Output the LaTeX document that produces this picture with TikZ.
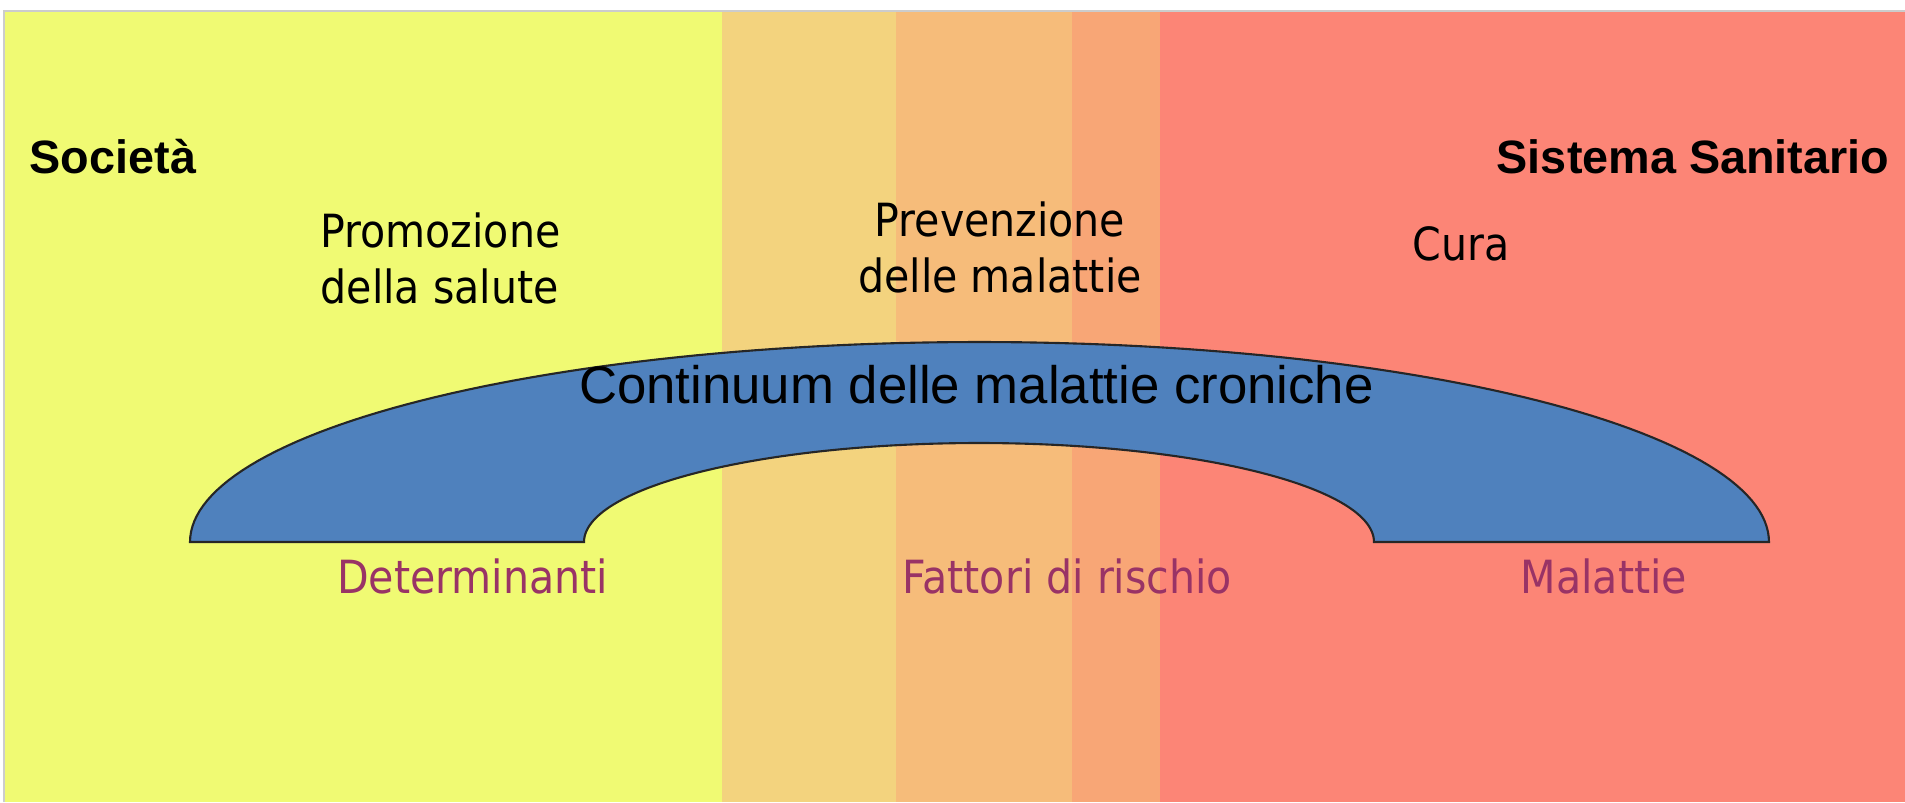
\documentclass[tikz,border=0pt]{standalone}
\usepackage{fontspec}
\setmainfont{DejaVu Sans Condensed}
\newfontfamily\arialfont{Liberation Sans}
\definecolor{socyellow}{HTML}{F0FA73}
\definecolor{bandtwo}{HTML}{F3D37E}
\definecolor{bandthree}{HTML}{F6BC7A}
\definecolor{bandfour}{HTML}{F8A676}
\definecolor{sysred}{HTML}{FC8576}
\definecolor{archblue}{HTML}{4F81BD}
\definecolor{labpurple}{HTML}{993366}

\begin{document}
\begin{tikzpicture}[x=0.01cm,y=-0.01cm,
  head/.style={font=\arialfont\bfseries\fontsize{13.3}{16}\selectfont,inner sep=0pt},
  txt/.style={font=\fontsize{13}{15.9}\selectfont,inner sep=0pt},
  lab/.style={txt,text=labpurple},
  title/.style={font=\arialfont\fontsize{15}{18}\selectfont,inner sep=0pt},
  arch/.style={fill=archblue,draw=black!85,line width=0.6pt}]
\useasboundingbox (0,0) rectangle (1905,802);
% Bands:
\fill[white] (0,0) rectangle (1905,802);
\fill[socyellow] (4,11) rectangle (722,802);
\fill[bandtwo] (722,11) rectangle (896,802);
\fill[bandthree] (896,11) rectangle (1072,802);
\fill[bandfour] (1072,11) rectangle (1160,802);
\fill[sysred] (1160,11) rectangle (1905,802);
\draw[black!20,line width=0.4pt] (4,802) -- (4,11) -- (1905,11);
% Arch:
\draw[arch] plot[domain=180:0,samples=121] ({979.5+789.5*cos(\x)},{542-200*sin(\x)})
  -- plot[domain=0:180,samples=121] ({979+395*cos(\x)},{542-99*sin(\x)}) -- cycle;
% Labels:
\node (soc) [head,anchor=base west] at (29,173) {Società};
\node (sis) [head,anchor=base east] at (1890,173) {Sistema Sanitario};
\node (prom) [txt,align=left,anchor=base west] at (320,303) {Promozione\\della salute};
\node (prev) [txt,align=center,anchor=base] at (1000,292) {Prevenzione\\delle malattie};
\node (cura) [txt,anchor=base west] at (1412,260) {Cura};
\node (cont) [title,anchor=base] at (976.5,403) {Continuum delle malattie croniche};
\node (det) [lab,anchor=base] at (472.5,593) {Determinanti};
\node (fat) [lab,anchor=base] at (1067.5,593) {Fattori di rischio};
\node (mal) [lab,anchor=base] at (1604,593) {Malattie};
\end{tikzpicture}
\end{document}
